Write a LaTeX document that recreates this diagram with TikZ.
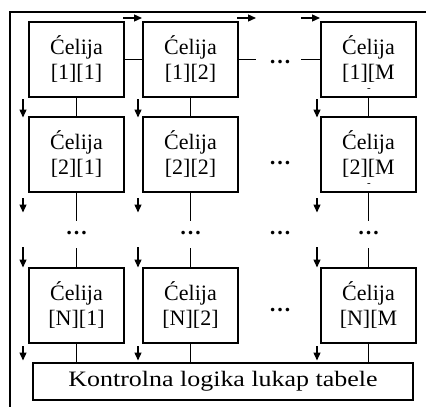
\documentclass[tikz,border=0pt]{standalone}
\usepackage{fontspec}
\setmainfont{Liberation Serif}
\newfontfamily\widefont[FakeStretch=1.18]{Liberation Serif}
\usetikzlibrary{arrows.meta}
\begin{document}
\begin{tikzpicture}[x=1pt,y=-1pt,
  cell/.style={draw, line width=1.7pt, minimum width=95pt, minimum height=75pt,
    inner sep=0pt, align=center, font=\fontsize{22}{25}\selectfont},
  ctrl/.style={draw, line width=1.7pt, minimum width=380pt, minimum height=37pt,
    inner sep=0pt, font=\widefont\fontsize{22}{25}\selectfont},
  link/.style={line width=1.3pt},
  flow/.style={line width=1.3pt, -{Triangle[length=8pt,width=7pt]}},
  dotsmark/.style={inner sep=0pt, font=\fontsize{22}{25}\selectfont\bfseries},
  tick/.style={inner sep=0pt, font=\fontsize{11}{11}\selectfont}]
\useasboundingbox (0,0) rectangle (426,407);

% outer frame
\draw[line width=1.7pt] (426,12) -- (10,12) -- (10,407);

% cell grid
\node[cell] (c11) at (76.5,59.5)  {Ćelija\\[0pt][1][1]};
\node[cell] (c12) at (190.5,59.5) {Ćelija\\[0pt][1][2]};
\node[cell] (c1m) at (368.5,59.5) {Ćelija\\[0pt][1][M};
\node[cell] (c21) at (76.5,154.5)  {Ćelija\\[0pt][2][1]};
\node[cell] (c22) at (190.5,154.5) {Ćelija\\[0pt][2][2]};
\node[cell] (c2m) at (368.5,154.5) {Ćelija\\[0pt][2][M};
\node[cell] (cn1) at (76.5,305.5)  {Ćelija\\[0pt][N][1]};
\node[cell] (cn2) at (190.5,305.5) {Ćelija\\[0pt][N][2]};
\node[cell] (cnm) at (368.5,305.5) {Ćelija\\[0pt][N][M};
\node[tick] (t1) at (369,90) {-};
\node[tick] (t2) at (369,185) {-};

% control logic
\node[ctrl] (ctl) at (223,381.5) {Kontrolna logika lukap tabele};

% ellipses
\node[dotsmark] (d1) at (280,62) {…};
\node[dotsmark] (d2) at (280,163) {…};
\node[dotsmark] (d3) at (280,310) {…};
\node[dotsmark] (e1) at (76.5,233) {…};
\node[dotsmark] (e2) at (190.5,233) {…};
\node[dotsmark] (e3) at (280,233) {…};
\node[dotsmark] (e4) at (368.5,233) {…};

% row connections
\coordinate (r1a) at (256,59.5);
\coordinate (r1b) at (301,59.5);
\draw[link] (c11) -- (c12);
\draw[link] (c12.east) -- (r1a);
\draw[link] (r1b) -- (c1m.west);

% column connections
\foreach \a/\b/\n/\x in {c11/c21/cn1/76.5, c12/c22/cn2/190.5, c1m/c2m/cnm/368.5}{
  \draw[link] (\a) -- (\b);
  \draw[link] (\b.south) -- (\x,221);
  \draw[link] (\x,248) -- (\n.north);
  \draw[link] (\n.south) -- (\n.south |- ctl.north);
}

% shift direction arrows
\foreach \s/\e in {123/142, 237/256, 301/320}
  \draw[flow] (\s,18) -- (\e,18);
\foreach \x in {23,138,317}{
  \draw[flow] (\x,99) -- (\x,117.5);
  \draw[flow] (\x,198) -- (\x,212.5);
  \draw[flow] (\x,247) -- (\x,267.5);
  \draw[flow] (\x,346) -- (\x,360.5);
}
\end{tikzpicture}
\end{document}
